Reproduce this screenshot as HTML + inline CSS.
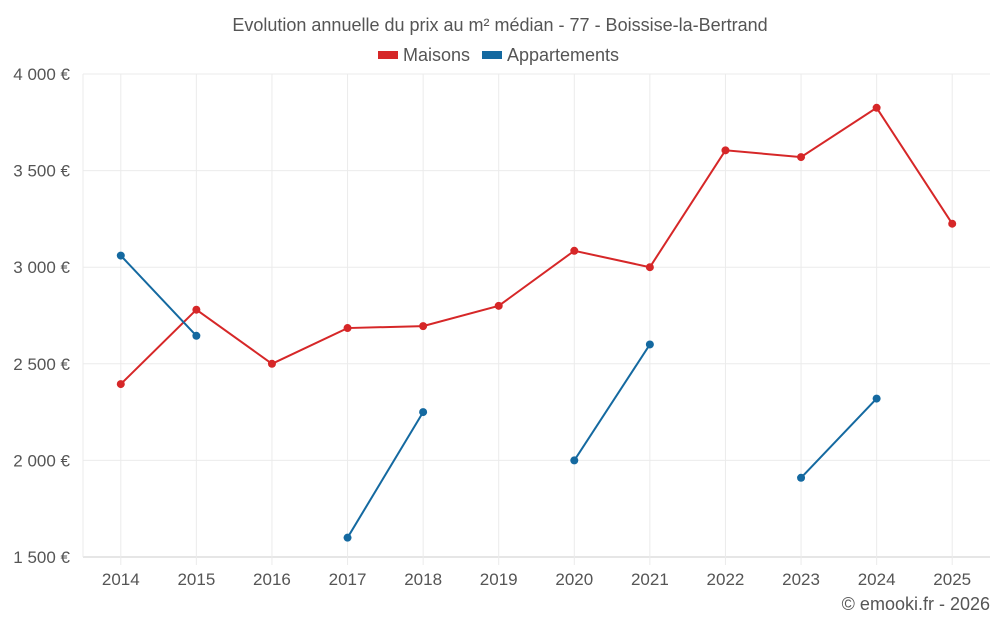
<!DOCTYPE html>
<html><head><meta charset="utf-8"><style>
body{margin:0;background:#fff;font-family:"Liberation Sans",sans-serif;}
svg text{font-family:"Liberation Sans",sans-serif;}
</style></head><body>
<svg id="chart" width="1000" height="625" xmlns="http://www.w3.org/2000/svg">
<text x="500" y="31" text-anchor="middle" font-size="18" fill="#555">Evolution annuelle du prix au m² médian - 77 - Boissise-la-Bertrand</text>
<g><rect x="378" y="51" width="20" height="8" fill="#d62728"/><text x="403" y="61" font-size="18" fill="#555">Maisons</text></g>
<g><rect x="482" y="51" width="20" height="8" fill="#1469a0"/><text x="507" y="61" font-size="18" fill="#555">Appartements</text></g>
<g id="grid"></g><g id="axes"></g><g id="series"></g>
<text x="990" y="610" text-anchor="end" font-size="18" fill="#555">© emooki.fr - 2026</text>
</svg>
<script>
const categories=[2014,2015,2016,2017,2018,2019,2020,2021,2022,2023,2024,2025];
const maisons=[2395,2780,2500,2685,2695,2800,3085,3000,3605,3570,3825,3225];
const appartements=[3060,2645,null,1600,2250,null,2000,2600,null,1910,2320,null];
const yTicks=[1500,2000,2500,3000,3500,4000];
const yTickLabels=["1 500 €","2 000 €","2 500 €","3 000 €","3 500 €","4 000 €"];
const NS="http://www.w3.org/2000/svg";
const L=83,R=990,T=74,B=557,yMin=1500,yMax=4000;
const step=(R-L)/categories.length;
function x(i){return L+step*(i+0.5);}
function y(v){return B-(v-yMin)/(yMax-yMin)*(B-T);}
function mk(tag,attrs,parent){const e=document.createElementNS(NS,tag);for(const k in attrs)e.setAttribute(k,attrs[k]);parent.appendChild(e);return e;}
const grid=document.getElementById('grid'),axes=document.getElementById('axes'),ser=document.getElementById('series');
yTicks.forEach((v,i)=>{
 const ln=mk('line',{x1:L,x2:R,y1:y(v),y2:y(v),stroke:i==0?'#ccc':'#ebebeb','stroke-width':1},grid);
 
 
 const t=mk('text',{x:70,y:y(v)+6,'text-anchor':'end','font-size':17,fill:'#555'},axes);
 t.textContent=yTickLabels[i];
 
 
});
const lg=mk('line',{x1:L,x2:L,y1:T,y2:B,stroke:'#ebebeb'},grid);


categories.forEach((c,i)=>{
 const g=mk('line',{x1:x(i),x2:x(i),y1:T,y2:B+8,stroke:'#ebebeb'},grid);
 
 
 const t=mk('text',{x:x(i),y:585,'text-anchor':'middle','font-size':17,fill:'#555'},axes);
 t.textContent=c;
 
 
});
function draw(vals,color,name){
 let seg=[];
 const segs=[];
 vals.forEach((v,i)=>{if(v==null){if(seg.length)segs.push(seg);seg=[];}else seg.push([x(i),y(v)]);});
 if(seg.length)segs.push(seg);
 segs.forEach(s=>{
  const p=mk('polyline',{points:s.map(q=>q.join(',')).join(' '),fill:'none',stroke:color,'stroke-width':2},ser);
  
  
 });
 vals.forEach((v,i)=>{if(v==null)return;
  const c=mk('circle',{cx:x(i),cy:y(v),r:4,fill:color},ser);
  
  
 });
}
draw(maisons,'#d62728','maisons');
draw(appartements,'#1469a0','appartements');
</script>
</body></html>
